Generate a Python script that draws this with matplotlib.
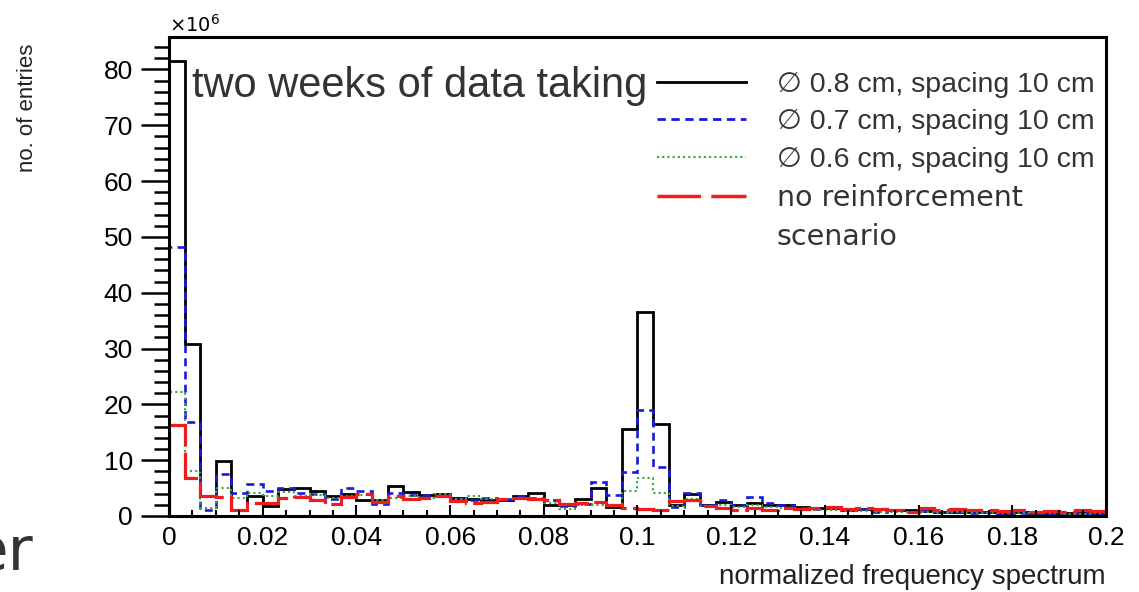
import numpy as np
import matplotlib
matplotlib.use("Agg")
import matplotlib.pyplot as plt
from matplotlib.lines import Line2D
from matplotlib.ticker import MultipleLocator, FuncFormatter

plt.rcParams['font.family'] = ['Liberation Sans', 'DejaVu Sans']

# histogram range / binning
x_min, x_max, n_bins = 0.0, 0.2, 60

# entries per bin (x 1e6)
rebar_08 = [81.5, 30.8, 3.6, 9.8, 1.0, 3.6, 1.8, 4.8, 5.0, 4.4,
            3.6, 4.0, 2.9, 2.9, 5.4, 4.3, 3.8, 4.0, 3.2, 3.0,
            2.9, 2.9, 3.5, 4.1, 2.0, 2.0, 3.0, 5.0, 1.6, 15.6,
            36.6, 16.5, 2.0, 4.0, 2.0, 2.5, 2.0, 2.3, 2.0, 2.0,
            1.6, 1.4, 1.4, 1.1, 1.2, 1.2, 1.0, 1.0, 0.9, 0.8,
            0.8, 0.7, 0.8, 0.6, 0.7, 0.6, 0.5, 0.6, 0.5, 0.6]
rebar_07 = [48.2, 16.8, 1.0, 7.5, 4.1, 5.8, 4.5, 5.0, 4.2, 4.0,
            3.0, 5.0, 4.5, 2.2, 4.2, 3.8, 3.8, 3.6, 3.0, 2.8,
            3.2, 3.0, 3.6, 3.2, 2.8, 1.8, 2.2, 6.0, 3.8, 7.9,
            19.0, 8.8, 1.6, 4.1, 2.0, 2.9, 2.0, 3.4, 2.4, 2.0,
            1.5, 1.2, 1.4, 1.0, 1.2, 0.8, 1.0, 0.8, 0.9, 0.7,
            0.8, 0.6, 0.7, 0.5, 0.6, 0.5, 0.6, 0.4, 0.5, 0.6]
rebar_06 = [22.2, 8.0, 1.4, 5.0, 3.2, 4.1, 3.6, 4.3, 3.6, 3.8,
            3.2, 3.5, 3.8, 2.8, 3.2, 3.5, 3.3, 4.0, 3.0, 3.6,
            3.0, 3.0, 3.0, 2.8, 2.4, 1.3, 2.0, 2.0, 2.0, 4.4,
            6.8, 4.2, 1.8, 3.0, 1.8, 2.0, 1.6, 2.0, 1.6, 1.5,
            1.2, 1.0, 1.0, 0.9, 0.9, 0.8, 0.8, 0.7, 0.8, 0.6,
            0.7, 0.6, 0.6, 0.5, 0.5, 0.5, 0.5, 0.4, 0.4, 0.5]
no_rebar = [16.3, 6.8, 3.5, 3.4, 1.0, 2.3, 2.4, 3.2, 3.4, 2.9,
            2.2, 3.4, 4.0, 2.5, 3.5, 3.0, 3.2, 3.5, 2.6, 2.3,
            2.5, 3.1, 3.3, 3.1, 2.8, 2.2, 2.3, 2.5, 2.0, 1.4,
            1.3, 1.0, 2.6, 2.8, 1.8, 1.4, 1.1, 1.4, 1.1, 1.5,
            1.2, 1.5, 1.6, 1.3, 1.4, 1.3, 1.1, 0.7, 1.4, 1.1,
            1.2, 1.0, 1.1, 0.9, 1.0, 0.8, 0.9, 0.8, 1.0, 0.9]

labels = ["\u2205 0.8 cm, spacing 10 cm",
          "\u2205 0.7 cm, spacing 10 cm",
          "\u2205 0.6 cm, spacing 10 cm",
          "no reinforcement",
          "scenario"]

edges = np.linspace(x_min, x_max, n_bins + 1)

fig = plt.figure(figsize=(11.39, 5.92), dpi=100)
ax = fig.add_axes([0.1484, 0.1284, 0.8226, 0.8091])

ax.stairs(rebar_08, edges, baseline=0, color='black', lw=2.0)
ax.stairs(rebar_07, edges, baseline=0, color='#1a1ad6', lw=1.9, ls=(0, (3, 2)))
ax.stairs(rebar_06, edges, baseline=0, color='#3aa63a', lw=1.5, ls=(0, (1, 1.5)))
ax.stairs(no_rebar, edges, baseline=0, color='#ee1c1c', lw=2.3, ls=(0, (12, 2)))

ax.set_xlim(x_min, x_max)
ax.set_ylim(0, 85.8)

# ROOT-like ticks: y outward, x inward
ax.yaxis.set_major_locator(MultipleLocator(10))
ax.yaxis.set_minor_locator(MultipleLocator(2))
ax.xaxis.set_major_locator(MultipleLocator(0.02))
ax.xaxis.set_minor_locator(MultipleLocator(0.005))
ax.xaxis.set_major_formatter(FuncFormatter(lambda v, p: f'{v:g}'))
ax.tick_params(axis='y', which='major', direction='out', length=20, width=1.8,
               labelsize=19, pad=6, colors='black')
ax.tick_params(axis='y', which='minor', direction='out', length=11, width=1.8)
ax.tick_params(axis='x', which='major', direction='in', length=8, width=1.5,
               labelsize=19, pad=7)
ax.tick_params(axis='x', which='minor', direction='in', length=4, width=1.5)
for s in ax.spines.values():
    s.set_linewidth(2.2)

ax.text(0.0, 1.003, r'$\times10^{6}$', transform=ax.transAxes, fontsize=14,
        ha='left', va='bottom')

ax.set_ylabel('no. of entries', fontsize=16, color='#222222')
ax.yaxis.set_label_coords(-0.140, 0.852)
ax.set_xlabel('normalized frequency spectrum', fontsize=20, color='#222222')
ax.xaxis.label.set_ha('right')
ax.xaxis.label.set_va('center')
ax.xaxis.set_label_coords(1.0, -0.127)

ax.text(0.0049, 75, 'two weeks of data taking', fontsize=30, color='#333333',
        ha='left', va='baseline')

handles = [Line2D([], [], color='black', lw=2.0),
           Line2D([], [], color='#1a1ad6', lw=2.0, ls=(0, (3, 2))),
           Line2D([], [], color='#3aa63a', lw=1.5, ls=(0, (1, 1.5))),
           Line2D([], [], color='#ee1c1c', lw=2.5, ls=(0, (12.5, 3))),
           Line2D([], [], color='none')]
leg = ax.legend(handles, labels, loc='upper right', bbox_to_anchor=(1.0, 0.950),
                frameon=False, fontsize=20.5, handlelength=3.1, handletextpad=1.1,
                labelspacing=0.39, borderaxespad=0)
for t in leg.get_texts():
    t.set_color('#333333')
for t in leg.get_texts()[3:]:
    t.set_fontfamily('DejaVu Sans')
    t.set_fontsize(20.5)

fig.text(-0.026, 0.015, 'er', fontsize=44, color='#333333', ha='left', va='bottom',
         family='DejaVu Sans')

fig.savefig('out.png', dpi=100)
